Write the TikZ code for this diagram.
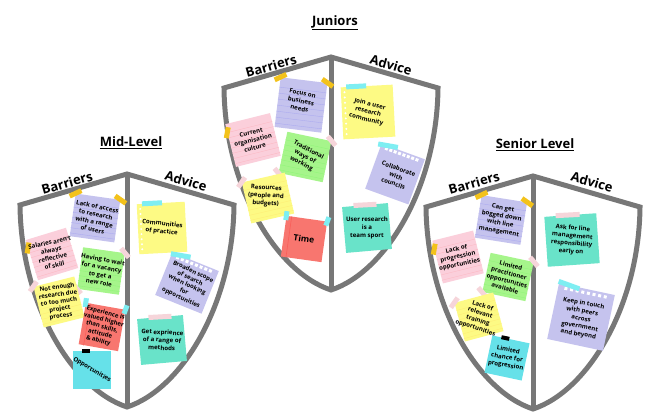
\documentclass[tikz,border=0pt]{standalone}
\usepackage{fontspec}
\setmainfont{Open Sans}
\usetikzlibrary{calc}

\definecolor{shieldgray}{HTML}{777777}
\definecolor{lav}{HTML}{C5C3EE}
\definecolor{pnk}{HTML}{FBCFDB}
\definecolor{grn}{HTML}{A6F58B}
\definecolor{ylw}{HTML}{FDFA84}
\definecolor{salm}{HTML}{F8766F}
\definecolor{mint}{HTML}{69E3C9}
\definecolor{cyn}{HTML}{66E1E9}
\definecolor{tapeY}{HTML}{F3C21B}
\definecolor{tapeC}{HTML}{7EEEF2}
\definecolor{tapeP}{HTML}{F6D5DA}

% faint ruled lines across a note
\newcommand{\ruled}[2]{%
  \foreach \t in {0.2,0.32,...,0.93}
    \draw[#2, line width=0.4pt] ($(#1.north west)!\t!(#1.south west)$) -- ($(#1.north east)!\t!(#1.south east)$);}
% white holes along the top (spiral pad)
\newcommand{\holes}[2]{%
  \foreach \t [count=\k] in {0.14,0.24,...,0.9}
    \node[hole, rotate=#2] (#1-h\k) at ($($(#1.north west)!\t!(#1.north east)$)!0.07!($(#1.south west)!\t!(#1.south east)$)$) {};}
% white dots down the left side
\newcommand{\margindots}[1]{%
  \foreach \t in {0.1,0.2,...,0.95}
    \fill[white] ($($(#1.north west)!\t!(#1.south west)$)!0.07!($(#1.north east)!\t!(#1.south east)$)$) circle (1.1);}
% darker margin line
\newcommand{\marginline}[1]{%
  \draw[salm!80!red, line width=0.6pt] ($(#1.north west)!0.13!(#1.north east)$) -- ($(#1.south west)!0.13!(#1.south east)$);}

\begin{document}
\begin{tikzpicture}[x=1pt, y=-1pt,
    shieldline/.style = {draw=shieldgray, line width=5pt, line join=miter},
    heading/.style = {font=\bfseries\fontsize{13}{15}\selectfont},
    side/.style = {font=\bfseries\fontsize{13}{15}\selectfont},
    note/.style = {fill=#1, inner sep=0pt},
    notetext/.style = {align=center, inner sep=0pt, font=\bfseries\fontsize{6.1}{7.8}\selectfont},
    tape/.style = {fill=#1, inner sep=0pt, minimum width=13pt, minimum height=5pt},
    binder/.style = {fill=black, inner sep=0pt, minimum width=8pt, minimum height=4pt},
    hole/.style = {fill=white, inner sep=0pt, minimum size=3pt},
    shield/.pic = {
        \draw[shieldline, fill=white] (0,0) -- (-107,31) .. controls (-106,130) and (-55,215) .. (0,233)
            .. controls (55,215) and (106,130) .. (107,31) -- cycle;
        \draw[shieldline] (0,0) -- (0,233);
    }]
    \useasboundingbox (0,0) rectangle (661,419);

    % shields
    \pic (js) at (331,57) {shield};
    \pic (ms) at (127,174) {shield};
    \pic (ss) at (533,176) {shield};

    % headings
    \node[heading] (jtitle) at (335,23) {\underline{Juniors}};
    \node[heading] (mtitle) at (131,143) {\underline{Mid-Level}};
    \node[heading] (stitle) at (535,145) {\underline{Senior Level}};

    \node[side, rotate=16] (jbar) at (271,66) {Barriers};
    \node[side, rotate=-16] (jadv) at (391,65) {Advice};
    \node[side, rotate=16] (mbar) at (67,183) {Barriers};
    \node[side, rotate=-16] (madv) at (186,181) {Advice};
    \node[side, rotate=16] (sbar) at (474,183) {Barriers};
    \node[side, rotate=-16] (sadv) at (592,182) {Advice};

    % Juniors: barriers
    \node[note=lav, rotate=-7, minimum width=47, minimum height=50] (jfocus) at (301,105) {};
    \ruled{jfocus}{lav!88!blue}
    \node[tape=tapeY, rotate=25] (jfocus-a) at (jfocus.north west) {};
    \node[tape=tapeY, rotate=-35] (jfocus-b) at (jfocus.north east) {};
    \node[notetext, rotate=-12] (jfocus-t) at ($(jfocus)+(0,-4)$) {Focus on\\business\\needs};

    \node[note=pnk, rotate=14, minimum width=46, minimum height=44] (jcult) at (253,140) {};
    \ruled{jcult}{pnk!90!red}
    \node[tape=tapeY, rotate=80, minimum width=11pt] (jcult-a) at ($(jcult.north west)!0.2!(jcult.south west)$) {};
    \node[notetext, rotate=14] (jcult-t) at (jcult) {Current\\organisation\\culture};

    \node[note=grn, rotate=-12, minimum width=45, minimum height=42] (jways) at (305,157) {};
    \ruled{jways}{grn!88!green}
    \node[tape=tapeP, rotate=-50, minimum width=12pt] (jways-a) at (jways.north east) {};
    \node[tape=tapeP, rotate=-50, minimum width=12pt] (jways-b) at (jways.south west) {};
    \node[notetext, rotate=-28] (jways-t) at (jways) {Traditional\\ways of\\working};

    \node[note=ylw, rotate=13, minimum width=44, minimum height=42] (jres) at (268,198) {};
    \ruled{jres}{ylw!90!orange}
    \node[tape=tapeP, rotate=55, minimum width=12pt] (jres-a) at (jres.north west) {};
    \node[notetext, rotate=-3] (jres-t) at ($(jres)+(-2,-2)$) {Resources\\(people and\\budgets)};

    \node[note=salm, rotate=-8, minimum width=41, minimum height=41] (jtime) at (304,239) {};
    \marginline{jtime}
    \node[tape=tapeC, rotate=82, minimum width=9pt, minimum height=5pt] (jtime-a) at (jtime.north west) {};
    \node[tape=tapeC, rotate=70, minimum width=9pt, minimum height=5pt] (jtime-b) at (jtime.north east) {};
    \node[notetext, rotate=-8, font=\bfseries\fontsize{8.5}{10}\selectfont] (jtime-t) at (jtime) {Time};

    % Juniors: advice
    \node[note=ylw, rotate=3, minimum width=52, minimum height=52] (jjoin) at (368,112) {};
    \margindots{jjoin}
    \node[tape=tapeC, rotate=3, minimum width=20pt] (jjoin-a) at ($(jjoin.north west)!0.3!(jjoin.north east)$) {};
    \node[notetext, rotate=-14] (jjoin-t) at (jjoin) {Join a user\\research\\community};

    \node[note=lav, rotate=-20, minimum width=46, minimum height=48] (jcoll) at (395,174) {};
    \holes{jcoll}{-20}
    \node[tape=tapeC, rotate=-10, minimum width=20pt] (jcoll-a) at ($(jcoll.north west)!0.15!(jcoll.north east)$) {};
    \node[notetext, rotate=-20] (jcoll-t) at ($(jcoll)+(1,2)$) {Collaborate\\with\\councils};

    \node[note=mint, rotate=5, minimum width=46, minimum height=46] (jteam) at (367,228) {};
    \node[tape=tapeP, rotate=3, minimum width=23pt] (jteam-a) at ($(jteam.north west)!0.5!(jteam.north east)$) {};
    \node[notetext] (jteam-t) at (jteam) {User research\\is a\\team sport};

    % Mid-level: barriers
    \node[note=lav, rotate=-8, minimum width=45, minimum height=43] (mlack) at (95,218) {};
    \ruled{mlack}{lav!88!blue}
    \node[tape=tapeY, rotate=25] (mlack-a) at (mlack.north west) {};
    \node[tape=tapeY, rotate=-35] (mlack-b) at (mlack.north east) {};
    \node[notetext, rotate=-12] (mlack-t) at (mlack) {Lack of access\\to research\\with a range\\of users};

    \node[note=pnk, rotate=17, minimum width=42, minimum height=42] (msal) at (52,254) {};
    \ruled{msal}{pnk!90!red}
    \node[tape=tapeY, rotate=80, minimum width=11pt] (msal-a) at ($(msal.north west)!0.2!(msal.south west)$) {};
    \node[notetext, rotate=12] (msal-t) at (msal) {Salaries aren't\\always\\reflective\\of skill};

    \node[note=grn, rotate=-8, minimum width=42, minimum height=42] (mwait) at (101,271) {};
    \ruled{mwait}{grn!88!green}
    \node[tape=tapeP, rotate=-50, minimum width=12pt] (mwait-a) at (mwait.north east) {};
    \node[tape=tapeP, rotate=-50, minimum width=12pt] (mwait-b) at (mwait.south west) {};
    \node[notetext, rotate=-10] (mwait-t) at (mwait) {Having to wait\\for a vacancy\\to get a\\new role};

    \node[note=ylw, rotate=14, minimum width=42, minimum height=42] (mnot) at (59,302) {};
    \ruled{mnot}{ylw!90!orange}
    \node[tape=tapeP, rotate=55, minimum width=12pt] (mnot-a) at (mnot.north west) {};
    \node[notetext, rotate=8, font=\bfseries\fontsize{6}{7.2}\selectfont] (mnot-t) at (mnot) {Not enough\\research due\\to too much\\project\\process};

    \node[note=salm, rotate=-10, minimum width=40, minimum height=42] (mexp) at (102,327) {};
    \marginline{mexp}
    \node[tape=tapeC, rotate=82, minimum width=9pt] (mexp-a) at (mexp.north west) {};
    \node[tape=tapeC, rotate=70, minimum width=9pt] (mexp-b) at (mexp.north east) {};
    \node[notetext, rotate=-15, font=\bfseries\fontsize{6}{7.2}\selectfont] (mexp-t) at (mexp) {Experience is\\valued higher\\than skills,\\attitude\\\& ability};

    \node[note=cyn, minimum width=38, minimum height=37] (mopp) at (92,370) {};
    \node[binder] (mopp-a) at ($(mopp.north west)!0.35!(mopp.north east)$) {};
    \node[notetext, rotate=-31] (mopp-t) at (mopp) {Opportunities};

    % Mid-level: advice
    \node[note=ylw, rotate=3, minimum width=48, minimum height=50] (mcomm) at (162,228) {};
    \margindots{mcomm}
    \node[tape=tapeC, rotate=3, minimum width=20pt] (mcomm-a) at ($(mcomm.north west)!0.32!(mcomm.north east)$) {};
    \node[notetext, rotate=-6] (mcomm-t) at (mcomm) {Communities\\of practice};

    \node[note=lav, rotate=-22, minimum width=50, minimum height=46] (mbroad) at (187,283) {};
    \holes{mbroad}{-22}
    \node[tape=tapeC, rotate=-10, minimum width=20pt] (mbroad-a) at ($(mbroad.north west)!0.18!(mbroad.north east)$) {};
    \node[notetext, rotate=-25, font=\bfseries\fontsize{6}{7.2}\selectfont] (mbroad-t) at ($(mbroad)+(0,2)$) {Broaden scope\\of search\\when looking\\for\\opportunities};

    \node[note=mint, rotate=5, minimum width=46, minimum height=46] (mget) at (162,340) {};
    \node[tape=tapeP, rotate=3, minimum width=23pt] (mget-a) at ($(mget.north west)!0.5!(mget.north east)$) {};
    \node[notetext, rotate=-3] (mget-t) at (mget) {Get exprience\\of a range of\\methods};

    % Senior level: barriers
    \node[note=lav, rotate=-9, minimum width=46, minimum height=43] (sbog) at (501,220) {};
    \ruled{sbog}{lav!88!blue}
    \node[tape=tapeY, rotate=25] (sbog-a) at (sbog.north west) {};
    \node[tape=tapeY, rotate=-35] (sbog-b) at (sbog.north east) {};
    \node[notetext, rotate=-10] (sbog-t) at (sbog) {Can get\\bogged down\\with line\\management};

    \node[note=pnk, rotate=14, minimum width=42, minimum height=44] (sprog) at (458,257) {};
    \ruled{sprog}{pnk!90!red}
    \node[tape=tapeY, rotate=80, minimum width=11pt] (sprog-a) at ($(sprog.north west)!0.2!(sprog.south west)$) {};
    \node[notetext, rotate=12] (sprog-t) at (sprog) {Lack of\\progression\\opportunities};

    \node[note=grn, rotate=-12, minimum width=44, minimum height=40] (sprac) at (508,277) {};
    \ruled{sprac}{grn!88!green}
    \node[tape=tapeP, rotate=-50, minimum width=12pt] (sprac-a) at (sprac.north east) {};
    \node[tape=tapeP, rotate=-50, minimum width=12pt] (sprac-b) at (sprac.south west) {};
    \node[notetext, rotate=-15] (sprac-t) at (sprac) {Limited\\practitioner\\opportunities\\available};

    \node[note=ylw, rotate=15, minimum width=40, minimum height=40] (srel) at (479,317) {};
    \ruled{srel}{ylw!90!orange}
    \node[tape=tapeP, rotate=55, minimum width=12pt] (srel-a) at (srel.north west) {};
    \node[notetext, rotate=-18] (srel-t) at (srel) {Lack of\\relevant\\training\\opportunities};

    \node[note=cyn, rotate=-12, minimum width=38, minimum height=38] (schance) at (507,358) {};
    \node[binder, rotate=-12] (schance-a) at ($(schance.north west)!0.35!(schance.north east)$) {};
    \node[notetext, rotate=-10] (schance-t) at (schance) {Limited\\chance for\\progression};

    % Senior level: advice
    \node[note=mint, rotate=4, minimum width=52, minimum height=50] (sask) at (572,240) {};
    \node[tape=tapeP, rotate=3, minimum width=24pt] (sask-a) at ($(sask.north west)!0.45!(sask.north east)$) {};
    \node[notetext, rotate=-5] (sask-t) at (sask) {Ask for line\\management\\responsibility\\early on};

    \node[note=lav, rotate=-12, minimum width=57, minimum height=57] (skeep) at (581,317) {};
    \holes{skeep}{-12}
    \node[tape=tapeC, rotate=-20, minimum width=22pt] (skeep-a) at ($(skeep.north west)!0.18!(skeep.north east)$) {};
    \node[notetext, rotate=-10] (skeep-t) at ($(skeep)+(0,2)$) {Keep in touch\\with peers\\across\\government\\and beyond};
\end{tikzpicture}
\end{document}
